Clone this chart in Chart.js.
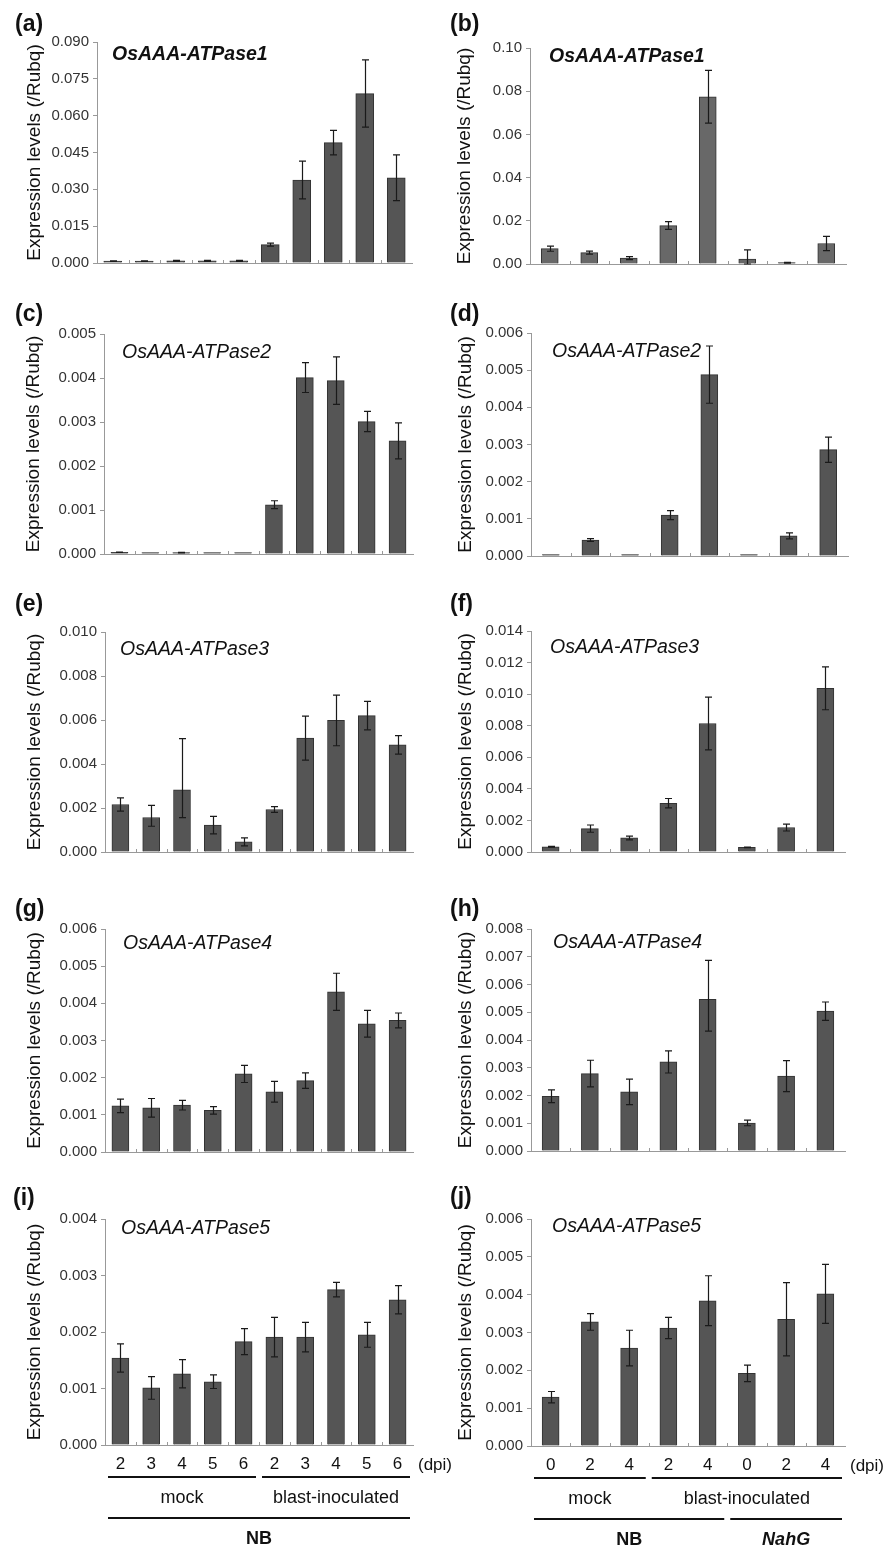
<!DOCTYPE html>
<html>
<head>
<meta charset="utf-8">
<script src="https://cdn.jsdelivr.net/npm/chart.js@4.4.1/dist/chart.umd.min.js"></script>
<style>
  body { margin: 0; background: #fff; width: 889px; height: 1551px; position: relative; overflow: hidden;
         font-family: 'Liberation Sans', Arial, sans-serif; }
  canvas { position: absolute; }
  .tag { position: absolute; font-weight: bold; font-size: 23px; line-height: 24px; color: #111; }
</style>
</head>
<body>
<script>
// --- categories ---
const daysNB = ['2', '3', '4', '5', '6', '2', '3', '4', '5', '6'];
const daysNahG = ['0', '2', '4', '2', '4', '0', '2', '4'];

// group labels under the bottom panels: [first category, last category, text, font style]
const groupsNB1 = [[0, 4, 'mock', ''], [5, 9, 'blast-inoculated', '']];
const groupsNB2 = [[0, 9, 'NB', 'bold']];
const groupsNahG1 = [[0, 2, 'mock', ''], [3, 7, 'blast-inoculated', '']];
const groupsNahG2 = [[0, 4, 'NB', 'bold'], [5, 7, 'NahG', 'bold italic']];

// --- values (means) and error bars; [down, up] where bars are uneven ---
const atp1NB = [0.0008, 0.0008, 0.0009, 0.0009, 0.0009, 0.0075, 0.0338, 0.0490, 0.0690, 0.0347];
const atp1NBErr = [0.0001, 0.0001, 0.0002, 0.0002, 0.0002, 0.0006, 0.0077, 0.0050, 0.0137, 0.0093];
const atp1NahG = [0.0071, 0.0053, 0.0027, 0.0178, 0.0774, 0.0023, 0.0006, 0.0095];
const atp1NahGErr = [0.0012, 0.0007, 0.0007, 0.0018, 0.0122, 0.0042, 0.0002, 0.0033];

const atp2NB = [0.00004, 0.00002, 0.00003, 0.00002, 0.00002, 0.00112, 0.00401, 0.00394, 0.00301, 0.00257];
const atp2NBErr = [0.000005, 0, 0.000005, 0, 0, 0.00009, 0.00034, 0.00054, 0.00023, 0.00041];
const atp2NahG = [0.00002, 0.00043, 0.00003, 0.00110, 0.00488, 0.00002, 0.00054, 0.00286];
const atp2NahGErr = [0, 0.00004, 0, 0.00012, 0.00077, 0, 0.00008, 0.00034];

const atp3NB = [0.00216, 0.00157, 0.00283, 0.00122, 0.00046, 0.00193, 0.00518, 0.00598, 0.00620, 0.00487];
const atp3NBErr = [0.00030, [0.00040, 0.00055], [0.00127, 0.00232], 0.00040, 0.00018, 0.00013, 0.00100, 0.00115, 0.00065, 0.00042];
const atp3NahG = [0.00033, 0.00148, 0.00089, 0.00309, 0.00814, 0.00029, 0.00155, 0.01037];
const atp3NahGErr = [0.00003, 0.00023, 0.00012, 0.00030, 0.00167, 0.00002, 0.00022, 0.00136];

const atp4NB = [0.00124, 0.00119, 0.00126, 0.00112, 0.00210, 0.00162, 0.00192, 0.00431, 0.00345, 0.00354];
const atp4NBErr = [0.00018, 0.00025, 0.00013, 0.00010, 0.00023, 0.00028, 0.00021, 0.00050, 0.00036, 0.00020];
const atp4NahG = [0.00197, 0.00279, 0.00213, 0.00321, 0.00547, 0.00101, 0.00270, 0.00504];
const atp4NahGErr = [0.00023, 0.00048, 0.00046, 0.00040, [0.00115, 0.00140], 0.00010, 0.00056, 0.00033];

const atp5NB = [0.00154, 0.00101, 0.00126, 0.00112, 0.00183, 0.00191, 0.00191, 0.00275, 0.00195, 0.00257];
const atp5NBErr = [0.00025, 0.00020, 0.00025, 0.00012, 0.00023, 0.00035, 0.00026, 0.00013, 0.00022, 0.00025];
const atp5NahG = [0.00129, 0.00328, 0.00259, 0.00312, 0.00384, 0.00192, 0.00335, 0.00402];
const atp5NahGErr = [0.00015, 0.00022, 0.00047, 0.00028, 0.00066, 0.00022, 0.00097, 0.00078];

// --- panel layout: box = plot area [left, top, right, bottom], gene = title position ---
const panels = [
  { tag: '(a)', tagAt: [15, 23], labels: daysNB, values: atp1NB, errs: atp1NBErr, max: 0.09, step: 0.015, dec: 3,
    gene: 'OsAAA-ATPase1', geneBold: true, geneAt: [112, 55], box: [97, 42, 412, 268], yOff: 62, color: '#555', bw: 18 },
  { tag: '(b)', tagAt: [450, 23], labels: daysNahG, values: atp1NahG, errs: atp1NahGErr, max: 0.10, step: 0.02, dec: 2,
    gene: 'OsAAA-ATPase1', geneBold: true, geneAt: [549, 57], box: [530, 48, 846, 269], yOff: 65, color: '#686868', bw: 17 },
  { tag: '(c)', tagAt: [15, 313], labels: daysNB, values: atp2NB, errs: atp2NBErr, max: 0.005, step: 0.001, dec: 3,
    gene: 'OsAAA-ATPase2', geneAt: [122, 353], box: [104, 334, 413, 559], yOff: 70, color: '#555', bw: 17 },
  { tag: '(d)', tagAt: [450, 313], labels: daysNahG, values: atp2NahG, errs: atp2NahGErr, max: 0.006, step: 0.001, dec: 3,
    gene: 'OsAAA-ATPase2', geneAt: [552, 352], box: [531, 333, 848, 561], yOff: 65, color: '#555', bw: 17 },
  { tag: '(e)', tagAt: [15, 603], labels: daysNB, values: atp3NB, errs: atp3NBErr, max: 0.010, step: 0.002, dec: 3,
    gene: 'OsAAA-ATPase3', geneAt: [120, 650], box: [105, 632, 413, 857], yOff: 70, color: '#555', bw: 17 },
  { tag: '(f)', tagAt: [450, 603], labels: daysNahG, values: atp3NahG, errs: atp3NahGErr, max: 0.014, step: 0.002, dec: 3,
    gene: 'OsAAA-ATPase3', geneAt: [550, 648], box: [531, 631, 845, 857], yOff: 65, color: '#555', bw: 17 },
  { tag: '(g)', tagAt: [15, 908], labels: daysNB, values: atp4NB, errs: atp4NBErr, max: 0.006, step: 0.001, dec: 3,
    gene: 'OsAAA-ATPase4', geneAt: [123, 944], box: [105, 929, 413, 1157], yOff: 70, color: '#555', bw: 17 },
  { tag: '(h)', tagAt: [450, 908], labels: daysNahG, values: atp4NahG, errs: atp4NahGErr, max: 0.008, step: 0.001, dec: 3,
    gene: 'OsAAA-ATPase4', geneAt: [553, 943], box: [531, 929, 845, 1156], yOff: 65, color: '#555', bw: 17 },
  { tag: '(i)', tagAt: [13, 1197], labels: daysNB, values: atp5NB, errs: atp5NBErr, max: 0.004, step: 0.001, dec: 3,
    gene: 'OsAAA-ATPase5', geneAt: [121, 1229], box: [105, 1219, 413, 1445], yOff: 70, color: '#555', bw: 17,
    groups1: groupsNB1, groups2: groupsNB2 },
  { tag: '(j)', tagAt: [450, 1196], labels: daysNahG, values: atp5NahG, errs: atp5NahGErr, max: 0.006, step: 0.001, dec: 3,
    gene: 'OsAAA-ATPase5', geneAt: [552, 1227], box: [531, 1219, 845, 1446], yOff: 65, color: '#555', bw: 17,
    groups1: groupsNahG1, groups2: groupsNahG2 },
];

Chart.defaults.font.family = "'Liberation Sans', Arial, sans-serif";

const FONT = "'Liberation Sans', Arial, sans-serif";
const AXIS_W = 100, TOP_PAD = 30, RIGHT_PAD = 48;
const TITLE_SIZE = 19;

// error bars, inside x tick marks, gene name and group labels
const decor = {
  id: 'decor',
  afterDatasetsDraw(chart, args, opts) {
    const p = opts.panel;
    const ctx = chart.ctx;
    const xs = chart.scales.x, ys = chart.scales.y;
    const area = chart.chartArea;
    const meta = chart.getDatasetMeta(0);
    ctx.save();

    // error bars
    ctx.strokeStyle = '#1a1a1a';
    ctx.lineWidth = 1.2;
    meta.data.forEach((bar, i) => {
      const e = p.errs[i];
      const lo = Array.isArray(e) ? e[0] : e;
      const hi = Array.isArray(e) ? e[1] : e;
      if (!hi) return;
      const v = p.values[i];
      const yHi = ys.getPixelForValue(v + hi);
      const yLo = ys.getPixelForValue(Math.max(0, v - lo));
      const x = Math.round(bar.x) + 0.5;
      ctx.beginPath();
      ctx.moveTo(x, yHi); ctx.lineTo(x, yLo);
      ctx.moveTo(x - 3.5, yHi); ctx.lineTo(x + 3.5, yHi);
      ctx.moveTo(x - 3.5, yLo); ctx.lineTo(x + 3.5, yLo);
      ctx.stroke();
    });

    // small inside tick marks between categories
    ctx.strokeStyle = '#999';
    ctx.lineWidth = 1;
    for (let i = 1; i < p.labels.length; i++) {
      const x = Math.round((xs.getPixelForValue(i - 1) + xs.getPixelForValue(i)) / 2) + 0.5;
      ctx.beginPath();
      ctx.moveTo(x, area.bottom); ctx.lineTo(x, area.bottom - 3);
      ctx.stroke();
    }

    // gene name
    ctx.fillStyle = '#111';
    ctx.font = (p.geneBold ? 'italic bold ' : 'italic ') + '19.5px ' + FONT;
    ctx.textBaseline = 'middle';
    ctx.textAlign = 'left';
    ctx.fillText(p.gene, area.left + (p.geneAt[0] - p.box[0]), area.top + (p.geneAt[1] - p.box[1]));

    // group labels below the axis
    if (p.groups1) {
      const half = (xs.getPixelForValue(1) - xs.getPixelForValue(0)) / 2;
      ctx.font = '17px ' + FONT;
      ctx.fillText('(dpi)', area.right + 5, area.bottom + 20);
      const drawRow = (groups, lineY, textY) => {
        groups.forEach(([from, to, text, style]) => {
          const x1 = xs.getPixelForValue(from) - half + 3;
          const x2 = xs.getPixelForValue(to) + half - 3;
          ctx.strokeStyle = '#111';
          ctx.lineWidth = 2;
          ctx.beginPath();
          ctx.moveTo(x1, lineY); ctx.lineTo(x2, lineY);
          ctx.stroke();
          ctx.font = (style ? style + ' ' : '') + '18px ' + FONT;
          ctx.textAlign = 'center';
          ctx.fillText(text, (x1 + x2) / 2, textY);
        });
      };
      drawRow(p.groups1, area.bottom + 32, area.bottom + 53);
      drawRow(p.groups2, area.bottom + 73, area.bottom + 94);
    }
    ctx.restore();
  }
};

panels.forEach(p => {
  const [left, top, right, bottom] = p.box;
  const bottomPanel = !!p.groups1;
  const xH = bottomPanel ? 1551 - bottom : 8;
  const cx = left - AXIS_W, cy = top - TOP_PAD;
  const cv = document.createElement('canvas');
  cv.width = right - cx + RIGHT_PAD;
  cv.height = bottom - cy + xH;
  cv.style.left = cx + 'px';
  cv.style.top = cy + 'px';
  document.body.appendChild(cv);

  const tag = document.createElement('div');
  tag.className = 'tag';
  tag.textContent = p.tag;
  tag.style.left = p.tagAt[0] + 'px';
  tag.style.top = (p.tagAt[1] - 12) + 'px';
  document.body.appendChild(tag);

  new Chart(cv, {
    type: 'bar',
    data: {
      labels: p.labels,
      datasets: [{
        data: p.values,
        backgroundColor: p.color,
        borderColor: '#333',
        borderWidth: 1,
        barThickness: p.bw,
        minBarLength: 1.5,
      }]
    },
    options: {
      responsive: false,
      animation: false,
      layout: { padding: { top: TOP_PAD, right: RIGHT_PAD, left: 0, bottom: 0 } },
      plugins: {
        legend: { display: false },
        tooltip: { enabled: false },
        decor: { panel: p },
      },
      scales: {
        x: {
          grid: { display: false, drawTicks: false },
          border: { color: '#999', width: 1 },
          ticks: { display: bottomPanel, color: '#111', font: { size: 17 }, padding: 9, maxRotation: 0, autoSkip: false },
          afterFit: s => { s.height = xH; },
        },
        y: {
          min: 0,
          max: p.max,
          ticks: { stepSize: p.step, color: '#333', font: { size: 15 }, padding: 4,
                   callback: v => v.toFixed(p.dec) },
          grid: { drawOnChartArea: false, color: '#999', tickLength: 4 },
          border: { color: '#999', width: 1 },
          title: { display: true, text: 'Expression levels (/Rubq)', color: '#111', font: { size: TITLE_SIZE },
                   padding: { top: AXIS_W - p.yOff - TITLE_SIZE * 0.6, bottom: 0 } },
          afterFit: s => { s.width = AXIS_W; },
        }
      }
    },
    plugins: [decor]
  });
});
</script>
</body>
</html>
